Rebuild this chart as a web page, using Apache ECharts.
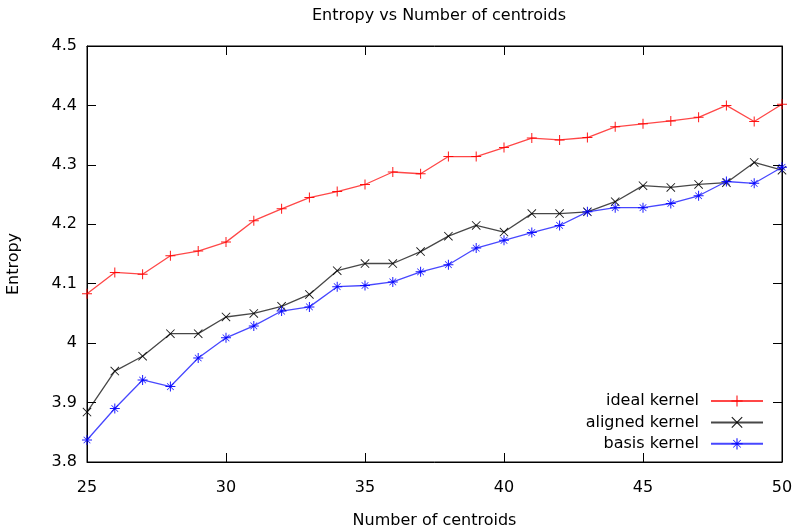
<!DOCTYPE html>
<html>
<head>
<meta charset="utf-8">
<script src="https://cdn.jsdelivr.net/npm/echarts@6/dist/echarts.min.js"></script>
<style>html,body{margin:0;padding:0;background:#fff}#c{width:796px;height:530px}</style>
</head>
<body>
<div id="c"></div>
<script>
var centroids = [25,26,27,28,29,30,31,32,33,34,35,36,37,38,39,40,41,42,43,44,45,46,47,48,49,50];
var idealKernel = [4.083,4.119,4.116,4.147,4.155,4.170,4.206,4.226,4.245,4.255,4.267,4.288,4.285,4.314,4.314,4.329,4.345,4.342,4.346,4.364,4.369,4.374,4.380,4.400,4.373,4.402];
var alignedKernel = [3.884,3.953,3.978,4.016,4.016,4.044,4.050,4.062,4.082,4.122,4.134,4.134,4.154,4.180,4.198,4.187,4.218,4.218,4.221,4.238,4.265,4.262,4.267,4.270,4.304,4.291];
var basisKernel = [3.837,3.890,3.938,3.927,3.975,4.009,4.029,4.054,4.061,4.095,4.097,4.103,4.120,4.132,4.160,4.173,4.186,4.198,4.221,4.228,4.228,4.235,4.248,4.272,4.269,4.296];
var seriesNames = ['ideal kernel','aligned kernel','basis kernel'];
var xTicks = [25,30,35,40,45,50];
var yTicks = [3.8,3.9,4,4.1,4.2,4.3,4.4,4.5];

var plusPath = 'path://M45,0 H55 V45 H100 V55 H55 V100 H45 V55 H0 V45 H45 Z';
var crossPath = 'path://M0,7 L7,0 L100,93 L93,100 Z M93,0 L100,7 L7,100 L0,93 Z';
var starPath = 'path://M45,0 H55 V45 H100 V55 H55 V100 H45 V55 H0 V45 H45 Z M14,19 L19,14 L86,81 L81,86 Z M81,14 L86,19 L19,86 L14,81 Z';

function pairs(arr){ return centroids.map(function(x,i){ return [x, arr[i]]; }); }

var fontFam = 'DejaVu Sans';
var fs = 16;
var chart = echarts.init(document.getElementById('c'), null, {renderer:'canvas'});
var colors = ['#ff0000','#000000','#0000ff'];
function mk(name, data, sym, col, size){
  return {
    name: name, type: 'line', data: pairs(data),
    symbol: sym, symbolSize: size, showAllSymbol: true,
    lineStyle: {color: col, width: 1.3, opacity: 0.72},
    itemStyle: {color: col, opacity: 0.9},
    emphasis: {disabled: true},
    animation: false, z: 3
  };
}
chart.setOption({
  animation: false,
  backgroundColor: '#fff',
  title: {
    text: 'Entropy vs Number of centroids',
    left: 434, top: 3, textAlign: 'center',
    textStyle: {fontFamily: fontFam, fontSize: fs, fontWeight: 'normal', color: '#000'}
  },
  legend: {
    data: seriesNames.map(function(n){ return {name: n}; }),
    orient: 'vertical', right: 27, top: 388, align: 'right',
    itemWidth: 52, itemHeight: 14, itemGap: 5.4,
    textStyle: {fontFamily: fontFam, fontSize: fs, color: '#000', padding: [0, 7, 0, 0]},
    selectedMode: false
  },
  grid: {left: 87, right: 14, top: 46, bottom: 68, containLabel: false,
         outerBoundsMode: 'none',
         show: true, borderColor: '#000', borderWidth: 1},
  xAxis: [{
    type: 'value', min: 25, max: 50, interval: 5,
    name: 'Number of centroids', nameLocation: 'middle', nameGap: 51,
    nameTextStyle: {fontFamily: fontFam, fontSize: fs, color: '#000'},
    axisLine: {show: true, lineStyle: {color: '#000', width: 1}},
    axisTick: {show: true, inside: true, length: 9, lineStyle: {color: '#000'}},
    axisLabel: {fontFamily: fontFam, fontSize: fs, color: '#000', margin: 18},
    splitLine: {show: false}
  },{
    type: 'value', min: 25, max: 50, interval: 5, position: 'top',
    axisLine: {show: true, lineStyle: {color: '#000', width: 1}},
    axisTick: {show: true, inside: true, length: 9, lineStyle: {color: '#000'}},
    axisLabel: {show: false}, splitLine: {show: false}
  }],
  yAxis: [{
    type: 'value', min: 3.8, max: 4.5, interval: 0.1,
    name: 'Entropy', nameLocation: 'middle', nameGap: 65, nameRotate: 90,
    nameTextStyle: {fontFamily: fontFam, fontSize: fs, color: '#000', padding: [0, 20, 0, 0]},
    axisLine: {show: true, lineStyle: {color: '#000', width: 1}},
    axisTick: {show: true, inside: true, length: 9, lineStyle: {color: '#000'}},
    axisLabel: {fontFamily: fontFam, fontSize: fs, color: '#000', margin: 10,
      formatter: function(v){ return String(Math.round(v*10)/10); }},
    splitLine: {show: false}
  },{
    type: 'value', min: 3.8, max: 4.5, interval: 0.1, position: 'right',
    axisLine: {show: true, lineStyle: {color: '#000', width: 1}},
    axisTick: {show: true, inside: true, length: 9, lineStyle: {color: '#000'}},
    axisLabel: {show: false}, splitLine: {show: false}
  }],
  series: [
    mk(seriesNames[0], idealKernel, plusPath, colors[0], 10),
    mk(seriesNames[1], alignedKernel, crossPath, colors[1], 9),
    mk(seriesNames[2], basisKernel, starPath, colors[2], 10)
  ]
});
</script>
</body>
</html>
